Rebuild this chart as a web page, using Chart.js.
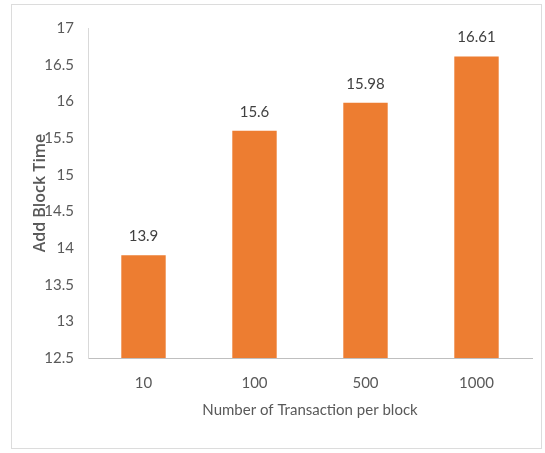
<!DOCTYPE html>
<html>
<head>
<meta charset="utf-8">
<script src="https://cdn.jsdelivr.net/npm/chart.js@4/dist/chart.umd.min.js"></script>
<style>
  html, body { margin: 0; padding: 0; background: #ffffff; }
  #wrap { width: 545px; height: 453px; position: relative; }
</style>
</head>
<body>
<div id="wrap"><canvas id="chart" width="545" height="453"></canvas></div>
<script>
// Add-block time for each block size
const categories = ['10', '100', '500', '1000'];
const addBlockTime = [13.9, 15.6, 15.98, 16.61];
const yMin = 12.5;
const yMax = 17;
const yStep = 0.5;

const tickFont = { family: "'Lato', sans-serif", size: 15 };
const textGray = '#595959';

// Value labels above each bar
const valueLabels = {
  id: 'valueLabels',
  afterDatasetsDraw(chart) {
    const { ctx } = chart;
    const meta = chart.getDatasetMeta(0);
    ctx.save();
    ctx.font = "15px 'Lato', sans-serif";
    ctx.fillStyle = '#404040';
    ctx.textAlign = 'center';
    ctx.textBaseline = 'middle';
    meta.data.forEach((bar, i) => {
      ctx.fillText(String(addBlockTime[i]), bar.x, bar.y - 19);
    });
    ctx.restore();
  }
};

// Thin frame around the whole chart
const frame = {
  id: 'frame',
  beforeDraw(chart) {
    const { ctx } = chart;
    ctx.save();
    ctx.strokeStyle = '#dcdcdc';
    ctx.lineWidth = 1;
    ctx.strokeRect(11.5, 4.5, 530, 444);
    ctx.restore();
  }
};

new Chart(document.getElementById('chart'), {
  type: 'bar',
  data: {
    labels: categories,
    datasets: [{
      data: addBlockTime,
      backgroundColor: '#ED7D31',
      borderWidth: 0,
      barPercentage: 0.4,
      categoryPercentage: 1.0
    }]
  },
  options: {
    responsive: false,
    animation: false,
    devicePixelRatio: 1,
    layout: { padding: { left: 0, right: 13, top: 28, bottom: 0 } },
    plugins: {
      legend: { display: false },
      tooltip: { enabled: false }
    },
    scales: {
      x: {
        grid: { display: false, drawTicks: false },
        border: { display: true, color: '#bfbfbf', width: 1 },
        ticks: { color: textGray, font: tickFont, padding: 16 },
        title: {
          display: true,
          text: 'Number of Transaction per block',
          color: textGray,
          font: tickFont,
          padding: { top: 0, bottom: 34 }
        },
        afterFit(scale) { scale.height = 95; }
      },
      y: {
        min: yMin,
        max: yMax,
        grid: { display: false, drawTicks: false },
        border: { display: true, color: '#d9d9d9', width: 1 },
        ticks: {
          stepSize: yStep,
          color: textGray,
          font: tickFont,
          padding: 14,
          callback: (v) => String(v)
        },
        title: {
          display: true,
          text: 'Add Block Time',
          color: textGray,
          font: { family: "'Open Sans', sans-serif", size: 16, weight: '600' },
          padding: { top: 31, bottom: 0 }
        },
        afterFit(scale) { scale.width = 88; }
      }
    }
  },
  plugins: [frame, valueLabels]
});
</script>
</body>
</html>
